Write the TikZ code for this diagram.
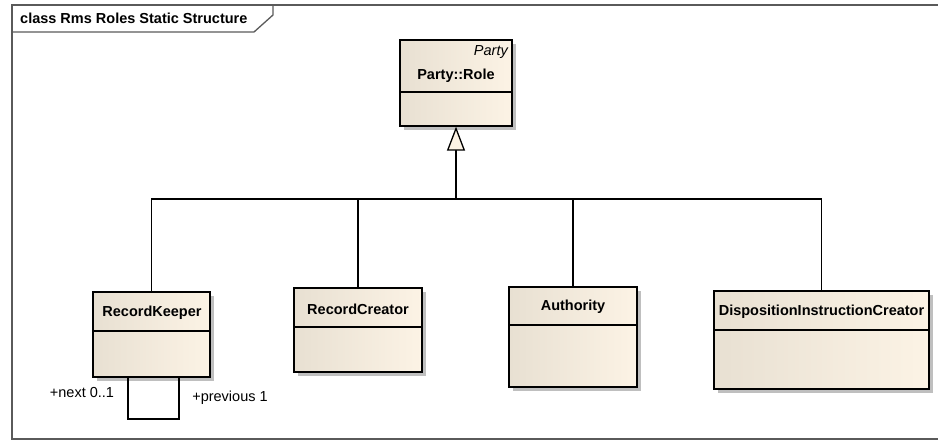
\documentclass[tikz,border=0pt]{standalone}
\usepackage{fontspec}
\setmainfont{Liberation Sans}
\usepackage{tikz}
\usetikzlibrary{arrows.meta,shadows}

\definecolor{umlleft}{RGB}{232,224,210}
\definecolor{umlright}{RGB}{252,243,229}
\definecolor{framegray}{RGB}{90,90,90}

\tikzset{
  classbox/.style={draw=black, line width=1.3pt, inner sep=0pt,
    left color=umlleft, right color=umlright,
    drop shadow={shadow xshift=4pt, shadow yshift=-4pt, fill=black!25, opacity=1}},
  classname/.style={font=\fontsize{14.5}{17}\selectfont\bfseries, inner sep=0pt},
  rolelabel/.style={font=\fontsize{14.5}{17}\selectfont, inner sep=0pt},
  divline/.style={line width=1.3pt},
  link/.style={line width=1.3pt},
  gen/.style={line width=1.3pt, -{Triangle[open, length=24pt, width=18pt, fill=umlright]}}
}

\begin{document}
\begin{tikzpicture}[x=1pt,y=-1pt]
\useasboundingbox (0,0) rectangle (938,442);

% Diagram frame and its tab
\draw[framegray, line width=2pt] (938,5) -- (12,5) -- (12,439) -- (938,439);
\draw[framegray, line width=1.3pt] (273,5) -- (273,15) -- (254,32) -- (12,32);
\node[classname, anchor=west] (title) at (20,18) {class Rms Roles Static Structure};

% Parent class
\node[classbox, minimum width=112pt, minimum height=86pt] (party) at (456,83) {};
\draw[divline] (party.west |- 0,92) -- (party.east |- 0,92);
\node[rolelabel, font=\fontsize{14.5}{17}\selectfont\itshape, anchor=east] (partyPkg) at (508,52) {Party};
\node[classname] (partyName) at (456,76) {Party::Role};

% Child classes
\node[classbox, minimum width=117pt, minimum height=85pt] (keeper) at (151.5,334.5) {};
\draw[divline] (keeper.west |- 0,331) -- (keeper.east |- 0,331);
\node[classname] (keeperName) at (152,313) {RecordKeeper};

\node[classbox, minimum width=128pt, minimum height=84pt] (creator) at (358,330) {};
\draw[divline] (creator.west |- 0,327) -- (creator.east |- 0,327);
\node[classname] (creatorName) at (358,309) {RecordCreator};

\node[classbox, minimum width=128pt, minimum height=100pt] (authority) at (573,337) {};
\draw[divline] (authority.west |- 0,325) -- (authority.east |- 0,325);
\node[classname] (authorityName) at (573,307) {Authority};

\node[classbox, minimum width=215pt, minimum height=98pt] (disposition) at (821.5,340) {};
\draw[divline] (disposition.west |- 0,330) -- (disposition.east |- 0,330);
\node[classname] (dispositionName) at (821.5,312) {DispositionInstructionCreator};

% Generalisation tree
\coordinate (bus) at (456,199);
\draw[link] (keeper.north) |- (bus);
\draw[link] (creator.north) |- (bus);
\draw[link] (authority.north) |- (bus);
\draw[link] (disposition.north) |- (bus);
\draw[gen] (bus) -- (party.south);

% Self association on RecordKeeper
\coordinate (loopL) at (128,419);
\coordinate (loopR) at (179,419);
\draw[link] (keeper.south -| loopL) -- (loopL) -- (loopR) -- (keeper.south -| loopR);
\node[rolelabel] (nextRole) at (82,393) {+next 0..1};
\node[rolelabel] (prevRole) at (230,398) {+previous 1};

\end{tikzpicture}
\end{document}
